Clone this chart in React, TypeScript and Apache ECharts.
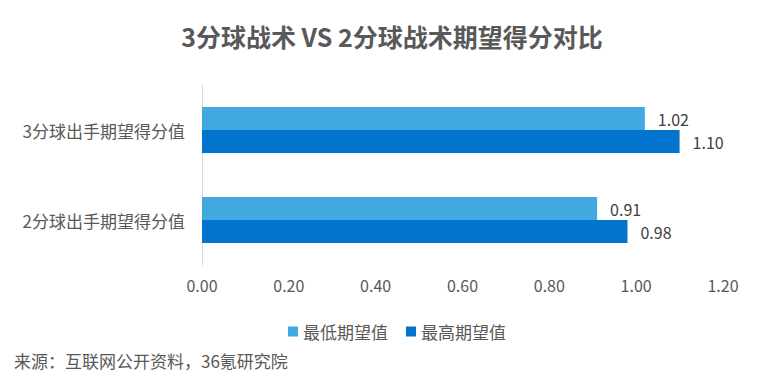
import React, { useEffect, useRef } from "react";
import * as echarts from "echarts";

const categories = ["2分球出手期望得分值", "3分球出手期望得分值"];
const lowValues = [0.91, 1.02];
const highValues = [0.98, 1.1];
const seriesNames = ["最低期望值", "最高期望值"];

const FONT = "'Noto Sans CJK SC', 'Noto Sans', sans-serif";

export default function App() {
  const ref = useRef<HTMLDivElement>(null);
  useEffect(() => {
    if (!ref.current) return;
    const chart = echarts.init(ref.current, undefined, { renderer: "svg" });
    chart.setOption({
      animation: false,
      backgroundColor: "#ffffff",
      textStyle: { fontFamily: FONT },
      title: {
        text: "3分球战术 VS 2分球战术期望得分对比",
        left: 387,
        textAlign: "center",
        top: 18,
        textStyle: { fontSize: 25, fontWeight: "bold", color: "#595959", fontFamily: FONT },
      },
      legend: {
        left: 283,
        top: 318,
        itemWidth: 10,
        itemHeight: 10,
        itemGap: 18,
        icon: "rect",
        textStyle: { fontSize: 17, color: "#595959", fontFamily: FONT },
        data: seriesNames,
      },
      graphic: [
        {
          type: "text",
          left: 14,
          top: 352,
          style: {
            text: "来源：互联网公开资料，36氪研究院",
            fontSize: 17,
            fill: "#595959",
            fontFamily: FONT,
          },
        },
      ],
      grid: { left: 202, right: 39, top: 85, bottom: 115 },
      xAxis: {
        type: "value",
        min: 0,
        max: 1.2,
        interval: 0.2,
        axisLine: { show: false },
        axisTick: { show: false },
        splitLine: { show: false },
        axisLabel: {
          formatter: (v: number) => v.toFixed(2),
          fontSize: 16,
          color: "#595959",
          margin: 12,
          fontFamily: FONT,
        },
      },
      yAxis: {
        type: "category",
        data: categories,
        axisLine: { show: true, lineStyle: { color: "#d9d9d9", width: 1 } },
        axisTick: { show: false },
        axisLabel: { fontSize: 17, color: "#595959", margin: 17, fontFamily: FONT },
      },
      series: [
        {
          name: seriesNames[0],
          type: "bar",
          data: lowValues,
          barWidth: 23,
          barGap: "0%",
          itemStyle: { color: "#42A8E0" },
          label: {
            show: true,
            position: "right",
            distance: 13,
            formatter: (p: any) => p.value.toFixed(2),
            fontSize: 16,
            color: "#404040",
            fontFamily: FONT,
          },
        },
        {
          name: seriesNames[1],
          type: "bar",
          data: highValues,
          barWidth: 23,
          barGap: "0%",
          itemStyle: { color: "#0174CF" },
          label: {
            show: true,
            position: "right",
            distance: 13,
            formatter: (p: any) => p.value.toFixed(2),
            fontSize: 16,
            color: "#404040",
            fontFamily: FONT,
          },
        },
      ],
    });
    return () => chart.dispose();
  }, []);
  return <div ref={ref} style={{ width: 762, height: 380, position: "absolute", left: 0, top: 0 }} />;
}
